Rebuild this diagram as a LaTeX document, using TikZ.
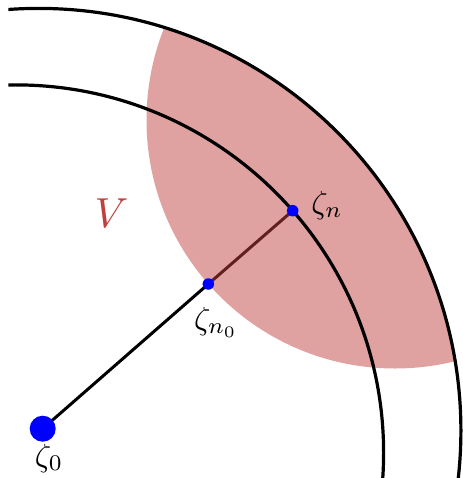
\documentclass[tikz,border=0pt]{standalone}
\definecolor{regionfill}{RGB}{224,161,161}
\definecolor{vred}{RGB}{192,64,64}
\definecolor{segred}{RGB}{96,32,32}
\begin{document}
\begin{tikzpicture}[x=1pt,y=-1pt,
  arcline/.style={line width=3.2pt},
  seg/.style={line width=3pt},
  bigdot/.style={circle,fill=blue,inner sep=0pt,minimum size=26pt},
  smalldot/.style={circle,fill=blue,inner sep=0pt,minimum size=11.5pt},
  lbl/.style={inner sep=0pt,scale=3.2}]
\useasboundingbox (0,0) rectangle (462,478);
\coordinate (Oout) at (38.6,430.7);
\coordinate (Oin) at (15.7,452.8);
\coordinate (Cred) at (395,120);
\coordinate (z0) at (42.7,428.7);
\coordinate (zn0) at (208.3,284);
\coordinate (zn) at (292.7,210.7);
% region V
\begin{scope}
  \clip (0,0) rectangle (462,478);
  \clip (Oout) circle[radius=422.3];
  \fill[regionfill] (Cred) circle[radius=248.5];
\end{scope}
% arcs
\begin{scope}
  \clip (8.3,-5) rectangle (470,478);
  \draw[arcline] (Oout) circle[radius=422.3];
  \draw[arcline] (Oin) circle[radius=367.9];
\end{scope}
% segments
\draw[seg] (z0) -- (zn0);
\draw[seg,segred] (zn0) -- (zn);
% points
\node[bigdot] (p0) at (z0) {};
\node[smalldot] (pn0) at (zn0) {};
\node[smalldot] (pn) at (zn) {};
% labels
\node[lbl] (l0) at (49,458) {$\zeta_0$};
\node[lbl] (ln0) at (216,322) {$\zeta_{n_0}$};
\node[lbl] (ln) at (327,205) {$\zeta_n$};
\node[inner sep=0pt,scale=4.2,text=vred] (lV) at (111.5,213) {$V$};
\end{tikzpicture}
\end{document}
